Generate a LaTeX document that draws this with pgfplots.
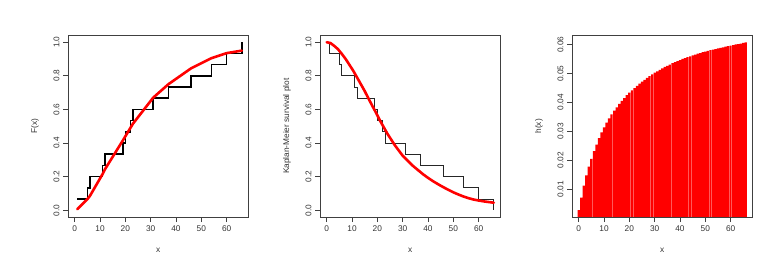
\documentclass[border=0pt]{standalone}
\usepackage{fontspec}
\setmainfont{Liberation Sans}
\usepackage{pgfplots}
\pgfplotsset{compat=1.18}
\newcommand{\rf}{\fontsize{8.3bp}{10bp}\selectfont}
\pgfplotsset{rstyle/.style={
  scale only axis, width=180.5bp, height=181.5bp, anchor=south west,
  axis line style={black!75, line width=0.8bp},
  every tick/.style={black!75, line width=0.8bp},
  tick align=outside, major tick length=5bp,
  xtick pos=left, ytick pos=left,
  xmin=-2.64, xmax=68.64, xtick={0,10,20,30,40,50,60},
  tick label style={font=\rf, text=black!80},
  label style={font=\rf, text=black!80},
  /pgf/number format/assume math mode=true,
  scaled y ticks=false,
  xlabel={x},
  xlabel style={at={(axis description cs:0.5,-0.181)}, anchor=center},
  ylabel style={at={(axis description cs:-0.183,0.5)}, anchor=center},
  yticklabel style={rotate=90, anchor=south},
},
onedig/.style={yticklabel style={/pgf/number format/fixed, /pgf/number format/fixed zerofill, /pgf/number format/precision=1}},
twodig/.style={yticklabel style={/pgf/number format/fixed, /pgf/number format/fixed zerofill, /pgf/number format/precision=2}}
}
\pgfplotstableread{
x h
0 0.0027
1 0.0070
2 0.0112
3 0.0147
4 0.0178
5 0.0204
6 0.0231
7 0.0254
8 0.0276
9 0.0296
10 0.0314
11 0.0330
12 0.0345
13 0.0359
14 0.0372
15 0.0383
16 0.0395
17 0.0405
18 0.0415
19 0.0425
20 0.0434
21 0.0442
22 0.0450
23 0.0457
24 0.0465
25 0.0472
26 0.0478
27 0.0485
28 0.0491
29 0.0497
30 0.0503
31 0.0508
32 0.0513
33 0.0518
34 0.0523
35 0.0527
36 0.0531
37 0.0536
38 0.0540
39 0.0543
40 0.0547
41 0.0551
42 0.0554
43 0.0557
44 0.0560
45 0.0563
46 0.0566
47 0.0569
48 0.0571
49 0.0574
50 0.0576
51 0.0579
52 0.0581
53 0.0583
54 0.0585
55 0.0587
56 0.0589
57 0.0591
58 0.0593
59 0.0595
60 0.0597
61 0.0599
62 0.0601
63 0.0602
64 0.0604
65 0.0606
66 0.0608
}\hazard
\begin{document}
\begin{tikzpicture}
\path[use as bounding box] (0,0) rectangle (768bp,264bp);
% Panel 1
\begin{axis}[rstyle, onedig, at={(68bp,47bp)}, ymin=-0.04, ymax=1.04,
  ytick={0,0.2,0.4,0.6,0.8,1},
  ylabel={F(x)}]
\addplot[const plot, black, line width=1.6bp] coordinates {
(1,0.0667) (5,0.1333) (6,0.2) (11,0.2667) (12,0.3333) (19,0.4) (20,0.4667)
(22,0.5333) (23,0.6) (31,0.6667) (37,0.7333) (46,0.8) (54,0.8667) (60,0.9333) (66,1)};
\addplot[red, line width=2.6bp, line cap=round, line join=round] coordinates {
(1,0.006) (5,0.066) (6,0.085) (11,0.215) (12,0.245) (19,0.415) (20,0.44)
(22,0.49) (23,0.515) (31,0.67) (37,0.75) (46,0.845) (54,0.905) (60,0.935) (66,0.95)};
\end{axis}
% Panel 2
\begin{axis}[rstyle, onedig, at={(320bp,47bp)}, ymin=-0.04, ymax=1.04,
  ytick={0,0.2,0.4,0.6,0.8,1},
  ylabel={Kaplan-Meier survival plot}]
\addplot[const plot, black!85, line width=0.8bp] coordinates {
(0,1) (1,0.9333) (5,0.8667) (6,0.8) (11,0.7333) (12,0.6667) (19,0.6) (20,0.5333)
(22,0.4667) (23,0.4) (31,0.3333) (37,0.2667) (46,0.2) (54,0.1333) (60,0.0667) (66,0)};
\addplot[red, line width=2.6bp, line cap=round, line join=round] coordinates {
(0,1.0) (1.5,0.995) (3,0.978) (4.5,0.958) (6,0.93) (7.5,0.9) (9,0.865) (10.5,0.83)
(12,0.79) (13.5,0.75) (15,0.71) (16.5,0.665) (18,0.622) (19.5,0.58) (21,0.535)
(22.5,0.495) (24,0.455) (25.5,0.42) (27,0.385) (28.5,0.355) (30,0.325) (32,0.295)
(34,0.265) (36,0.24) (38,0.215) (40,0.193) (42,0.173) (44,0.155) (46,0.138)
(48,0.122) (50,0.107) (52,0.094) (54,0.082) (56,0.072) (58,0.064) (60,0.058)
(62,0.053) (64,0.049) (66,0.045)};
\end{axis}
% Panel 3
\begin{axis}[rstyle, twodig, at={(572bp,47bp)}, ymin=0.0003, ymax=0.0632,
  ytick={0.01,0.02,0.03,0.04,0.05,0.06},
  ylabel={h(x)}]
\addplot[ybar, bar width=0.88, fill=red, draw=none] table[x=x, y=h] {\hazard};
\end{axis}
\end{tikzpicture}
\end{document}
